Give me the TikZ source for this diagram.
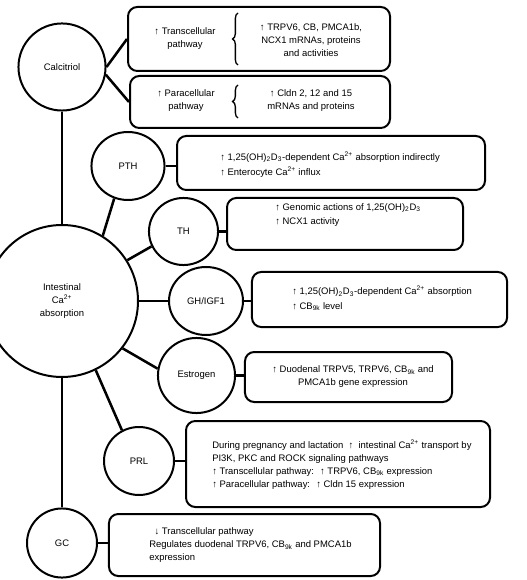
\documentclass[tikz,border=0pt]{standalone}
\usepackage{fontspec}
\setmainfont{Liberation Sans}
\usetikzlibrary{shapes.geometric,decorations.pathreplacing}

\newcommand{\vitd}{1,25(OH)\textsubscript{2}D\textsubscript{3}}
\newcommand{\cbnk}{CB\textsubscript{9k}}
\newcommand{\caion}{Ca\textsuperscript{2+}}

\begin{document}
\begin{tikzpicture}[x=0.75pt,y=-0.75pt,
	every node/.style={font=\fontsize{7.1}{9.75}\selectfont},
	hormone/.style={ellipse,draw,line width=1.5pt,inner sep=0pt,align=center},
	effect/.style={rectangle,rounded corners=7pt,draw,line width=1.5pt,inner sep=0pt},
	txt/.style={inner sep=0pt,align=left,anchor=west},
	link/.style={line width=1.9pt},
	curly/.style={line width=1pt,decorate,decoration={brace,amplitude=4pt}}]

\useasboundingbox (0,0) rectangle (526,580);

% hormones
\node[hormone,minimum width=65.3pt,minimum height=65.3pt] (calc) at (62,67) {Calcitriol};
\node[hormone,minimum width=114pt,minimum height=114pt] (main) at (62,301) {Intestinal\\\caion\\absorption};
\node[hormone,minimum width=54.8pt,minimum height=51pt] (pth) at (128,166) {PTH};
\node[hormone,minimum width=51.8pt,minimum height=50.3pt] (th) at (183.5,231.5) {TH};
\node[hormone,minimum width=55.5pt,minimum height=51pt] (gh) at (206,301) {GH/IGF1};
\node[hormone,minimum width=57.8pt,minimum height=56.3pt] (est) at (196.5,375.5) {Estrogen};
\node[hormone,minimum width=52.5pt,minimum height=51pt] (prl) at (139,461) {PRL};
\node[hormone,minimum width=52.5pt,minimum height=51.8pt] (gc) at (62,543) {GC};

% effect boxes
\node[effect,minimum width=196.5pt,minimum height=48pt] (tbox) at (259,39) {};
\node[effect,minimum width=195pt,minimum height=39pt] (pbox) at (260,102) {};
\node[effect,minimum width=231pt,minimum height=40.5pt] (pthbox) at (331,163) {};
\node[effect,minimum width=177pt,minimum height=39pt] (thbox) at (345,224) {};
\node[effect,minimum width=191.3pt,minimum height=41.3pt] (ghbox) at (379.5,299.5) {};
\node[effect,minimum width=155.3pt,minimum height=37.5pt] (estbox) at (348.5,377) {};
\node[effect,minimum width=228pt,minimum height=64.5pt] (prlbox) at (338,464) {};
\node[effect,minimum width=203.3pt,minimum height=46.5pt] (gcbox) at (244.5,545) {};

% texts
\node[align=center,inner sep=0pt] (tleft) at (185,38.5) {↑ Transcellular\\pathway};
\node[align=center,inner sep=0pt] (tright) at (311,40) {↑ TRPV6, CB, PMCA1b,\\NCX1 mRNAs, proteins\\and activities};
\node[align=center,inner sep=0pt] (pleft) at (186,100.5) {↑ Paracellular\\pathway};
\node[align=center,inner sep=0pt] (pright) at (311,100.5) {↑ Cldn 2, 12 and 15\\mRNAs and proteins};
\draw[curly] (238,65) -- (238,13);
\draw[curly] (238,118) -- (238,85);

\node[txt,font=\fontsize{7.1}{11}\selectfont] (pthtxt) at (220,164.5) {↑ \vitd-dependent \caion\ absorption indirectly\\↑ Enterocyte \caion\ influx};
\node[txt,font=\fontsize{7.1}{10.5}\selectfont] (thtxt) at (275,215) {↑ Genomic actions of \vitd\\↑ NCX1 activity};
\node[txt,font=\fontsize{7.1}{11}\selectfont] (ghtxt) at (292,298.5) {↑ \vitd-dependent \caion\ absorption\\↑ \cbnk\ level};
\node[align=center,inner sep=0pt] (esttxt) at (353,376.5) {↑ Duodenal TRPV5, TRPV6, \cbnk\ and\\PMCA1b gene expression};
\node[txt] (prltxt) at (212,464.5) {During pregnancy and lactation \ ↑ \ intestinal \caion\ transport by\\PI3K, PKC and ROCK signaling pathways\\↑ Transcellular pathway: \ ↑ TRPV6, \cbnk\ expression\\↑ Paracellular pathway: \ ↑ Cldn 15 expression};
\node[txt] (gctxt) at (149,545) {\hspace{4pt}↓ Transcellular pathway\\Regulates duodenal TRPV6, \cbnk\ and PMCA1b\\expression};

% connectors
\draw[link] (calc.east) -- (tbox.west);
\draw[link] (calc.-10) -- (pbox.west);
\draw[link] (calc.south) -- (main.north);
\draw[link] (main.58) -- (pth.-113);
\draw[link] (main.32) -- (th.205);
\draw[link] (main.east) -- (gh.west);
\draw[link] (main.-38) -- (est.170);
\draw[link] (main.-64) -- (prl.119);
\draw[link] (main.south) -- (gc.north);
\draw[link] (pth.east) -- (pth.east -| pthbox.west);
\draw[link] (th.east) -- (th.east -| thbox.west);
\draw[link] (gh.east) -- (gh.east -| ghbox.west);
\draw[link] (est.east) -- (est.east -| estbox.west);
\draw[link] (prl.east) -- (prl.east -| prlbox.west);
\draw[link] (gc.east) -- (gc.east -| gcbox.west);

\end{tikzpicture}
\end{document}
